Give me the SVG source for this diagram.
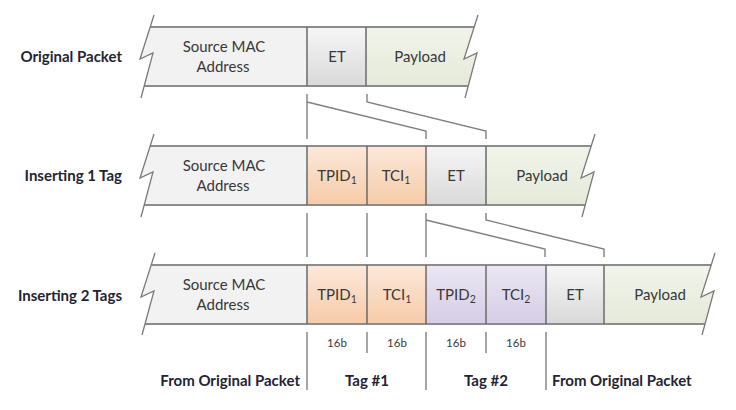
<svg xmlns="http://www.w3.org/2000/svg" width="736" height="410" viewBox="0 0 736 410">
<defs>
<linearGradient id="gEt" x1="0" y1="0" x2="0" y2="1"><stop offset="0" stop-color="#f6f6f6"/><stop offset="1" stop-color="#d9d9d9"/></linearGradient>
<linearGradient id="gT1" x1="0" y1="0" x2="0" y2="1"><stop offset="0" stop-color="#fce8da"/><stop offset="1" stop-color="#f6cba8"/></linearGradient>
<linearGradient id="gT2" x1="0" y1="0" x2="0" y2="1"><stop offset="0" stop-color="#ebe7f3"/><stop offset="1" stop-color="#d5cde5"/></linearGradient>
<linearGradient id="gPl" x1="0" y1="0" x2="0" y2="1"><stop offset="0" stop-color="#f1f4ea"/><stop offset="1" stop-color="#e5eada"/></linearGradient>
<clipPath id="c1"><polygon points="150.2,27 474.2,27 464,59 477,53 468,86 144,86 153,53 140,59"/></clipPath>
<clipPath id="c2"><polygon points="150.2,146 591.2,146 581,178 594,172 585,205 144,205 153,172 140,178"/></clipPath>
<clipPath id="c3"><polygon points="151.2,265 711.2,265 701,297 714,291 705,324 145,324 154,291 141,297"/></clipPath>
</defs>
<style>
.src{fill:#f2f2f2}
.et{fill:url(#gEt)}
.t1{fill:url(#gT1)}
.t2{fill:url(#gT2)}
.pl{fill:url(#gPl)}
.edge{stroke:#8c8c8c;stroke-width:2;fill:none}
.zig{stroke:#7a7a7a;stroke-width:1.3;fill:none;stroke-linejoin:miter}
.div{stroke:#6a6a6a;stroke-width:1.5}
.con{stroke:#808080;stroke-width:1.4;fill:none}
.tx{font-family:Lato,"Liberation Sans",sans-serif;font-size:15px;fill:#383838;text-anchor:middle}
.sub{font-size:10.5px}
.lbl{font-family:Lato,"Liberation Sans",sans-serif;font-size:15px;font-weight:bold;fill:#1f2533}
.sm{font-family:Lato,"Liberation Sans",sans-serif;font-size:11.5px;fill:#3a3a3a;text-anchor:middle}
</style>
<rect width="736" height="410" fill="#ffffff"/>

<!-- Row labels -->
<g id="label-original"><text class="lbl" x="122" y="62" text-anchor="end">Original Packet</text></g>
<g id="label-1tag"><text class="lbl" x="122" y="181" text-anchor="end">Inserting 1 Tag</text></g>
<g id="label-2tags"><text class="lbl" x="122" y="301" text-anchor="end">Inserting 2 Tags</text></g>

<!-- Row 1 -->
<g id="row1">
<g clip-path="url(#c1)">
<rect class="src" x="130" y="27" width="177" height="59"/>
<rect class="et" x="307" y="27" width="59" height="59"/>
<rect class="pl" x="366" y="27" width="120" height="59"/>
</g>
<line class="edge" x1="150.2" y1="27" x2="474.2" y2="27"/>
<line class="edge" x1="144" y1="86" x2="468" y2="86"/>
<polyline class="zig" points="154,15 140,59 153,53 141,98"/>
<polyline class="zig" points="478,15 464,59 477,53 465,98"/>
<line class="div" x1="307" y1="27" x2="307" y2="86"/>
<line class="div" x1="366" y1="27" x2="366" y2="86"/>
<g id="r1-src"><text class="tx" x="224" y="52">Source MAC</text><text class="tx" x="223" y="72">Address</text></g>
<g id="r1-et"><text class="tx" x="337" y="62">ET</text></g>
<g id="r1-pl"><text class="tx" x="420" y="62">Payload</text></g>
</g>

<!-- Row 2 -->
<g id="row2">
<g clip-path="url(#c2)">
<rect class="src" x="130" y="146" width="177" height="59"/>
<rect class="t1" x="307" y="146" width="60" height="59"/>
<rect class="t1" x="367" y="146" width="59" height="59"/>
<rect class="et" x="426" y="146" width="60" height="59"/>
<rect class="pl" x="486" y="146" width="120" height="59"/>
</g>
<line class="edge" x1="150.2" y1="146" x2="591.2" y2="146"/>
<line class="edge" x1="144" y1="205" x2="585" y2="205"/>
<polyline class="zig" points="154,134 140,178 153,172 141,217"/>
<polyline class="zig" points="595,134 581,178 594,172 582,217"/>
<line class="div" x1="307" y1="146" x2="307" y2="205"/>
<line class="div" x1="367" y1="146" x2="367" y2="205"/>
<line class="div" x1="426" y1="146" x2="426" y2="205"/>
<line class="div" x1="486" y1="146" x2="486" y2="205"/>
<g id="r2-src"><text class="tx" x="224" y="171">Source MAC</text><text class="tx" x="223" y="191">Address</text></g>
<g id="r2-tpid1"><text class="tx" x="337" y="181">TPID<tspan class="sub" dy="3">1</tspan></text></g>
<g id="r2-tci1"><text class="tx" x="396" y="181">TCI<tspan class="sub" dy="3">1</tspan></text></g>
<g id="r2-et"><text class="tx" x="456" y="181">ET</text></g>
<g id="r2-pl"><text class="tx" x="542" y="181">Payload</text></g>
</g>

<!-- Row 3 -->
<g id="row3">
<g clip-path="url(#c3)">
<rect class="src" x="130" y="265" width="177" height="59"/>
<rect class="t1" x="307" y="265" width="60" height="59"/>
<rect class="t1" x="367" y="265" width="59" height="59"/>
<rect class="t2" x="426" y="265" width="60" height="59"/>
<rect class="t2" x="486" y="265" width="60" height="59"/>
<rect class="et" x="546" y="265" width="58" height="59"/>
<rect class="pl" x="604" y="265" width="120" height="59"/>
</g>
<line class="edge" x1="151.2" y1="265" x2="711.2" y2="265"/>
<line class="edge" x1="145" y1="324" x2="705" y2="324"/>
<polyline class="zig" points="155,253 141,297 154,291 142,335"/>
<polyline class="zig" points="715,253 701,297 714,291 702,335"/>
<line class="div" x1="307" y1="265" x2="307" y2="324"/>
<line class="div" x1="367" y1="265" x2="367" y2="324"/>
<line class="div" x1="426" y1="265" x2="426" y2="324"/>
<line class="div" x1="486" y1="265" x2="486" y2="324"/>
<line class="div" x1="546" y1="265" x2="546" y2="324"/>
<line class="div" x1="604" y1="265" x2="604" y2="324"/>
<g id="r3-src"><text class="tx" x="224" y="290">Source MAC</text><text class="tx" x="223" y="310">Address</text></g>
<g id="r3-tpid1"><text class="tx" x="337" y="300">TPID<tspan class="sub" dy="3">1</tspan></text></g>
<g id="r3-tci1"><text class="tx" x="397" y="300">TCI<tspan class="sub" dy="3">1</tspan></text></g>
<g id="r3-tpid2"><text class="tx" x="456" y="300">TPID<tspan class="sub" dy="3">2</tspan></text></g>
<g id="r3-tci2"><text class="tx" x="516" y="300">TCI<tspan class="sub" dy="3">2</tspan></text></g>
<g id="r3-et"><text class="tx" x="575" y="300">ET</text></g>
<g id="r3-pl"><text class="tx" x="660" y="300">Payload</text></g>
</g>

<!-- Connectors -->
<g id="connectors">
<path class="con" d="M307,94 V139 M307,102 L426,131 V139 M367,94 V102 L486,131 V139"/>
<path class="con" d="M307,213 V257 M367,213 V257 M426,213 V257 M426,220 L545,249 V257 M486,213 V220 L604,249 V257"/>
<path class="con" d="M307,332 V390 M367,332 V353 M426,332 V390 M486,332 V353 M546,332 V390"/>
</g>

<!-- Bottom labels -->
<g id="bits">
<text class="sm" x="337" y="347">16b</text>
<text class="sm" x="397" y="347">16b</text>
<text class="sm" x="456" y="347">16b</text>
<text class="sm" x="516" y="347">16b</text>
</g>
<g id="label-from1"><text class="lbl" x="300" y="386" text-anchor="end">From Original Packet</text></g>
<g id="label-tag1"><text class="lbl" x="367" y="386" text-anchor="middle">Tag #1</text></g>
<g id="label-tag2"><text class="lbl" x="486" y="386" text-anchor="middle">Tag #2</text></g>
<g id="label-from2"><text class="lbl" x="552" y="386">From Original Packet</text></g>
</svg>
